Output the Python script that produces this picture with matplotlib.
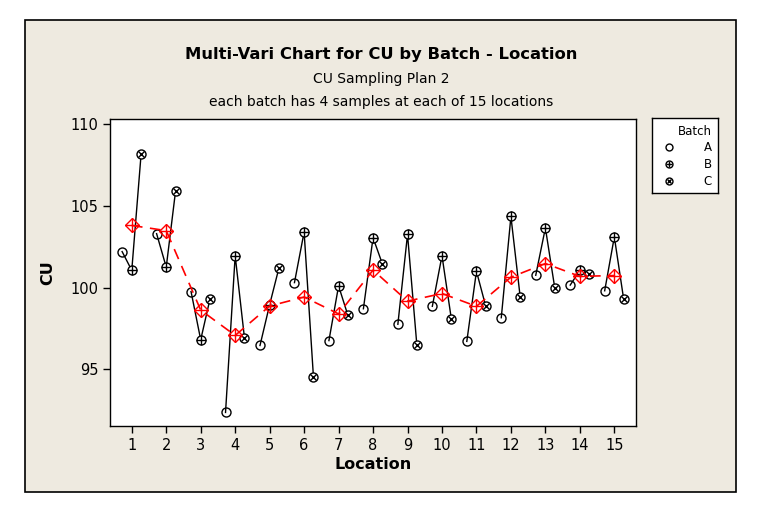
import numpy as np
import matplotlib.pyplot as plt
from matplotlib.patches import Rectangle

# mean CU of each batch at each location
locations = np.arange(1, 16)
batch_a = [102.2, 103.3, 99.75, 92.35, 96.45, 100.3, 96.75, 98.7, 97.75, 98.85,
           96.7, 98.15, 100.75, 100.15, 99.8]
batch_b = [101.05, 101.25, 96.8, 101.95, 98.95, 103.4, 100.1, 103.05, 103.25, 101.95,
           101.0, 104.35, 103.65, 101.05, 103.1]
batch_c = [108.15, 105.9, 99.3, 96.9, 101.2, 94.55, 98.3, 101.45, 96.5, 98.1,
           98.85, 99.4, 100.0, 100.85, 99.3]
batch_names = ['A', 'B', 'C']
y_ticks = [95, 100, 105, 110]

plt.rcParams['font.family'] = ['DejaVu Sans']

fig = plt.figure(figsize=(7.69, 5.22), dpi=100)
fig.patch.set_facecolor('white')
bg = '#EEEAE0'
fig.patches.append(Rectangle((25 / 769, 1 - 492 / 522), 711 / 769, 472 / 522,
                             transform=fig.transFigure, facecolor=bg,
                             edgecolor='black', linewidth=1.2, zorder=-10))

ax = fig.add_axes([110.4 / 769, 1 - 426 / 522, 525.3 / 769, 307 / 522])
ax.set_facecolor('white')

offs = [-0.28, 0.0, 0.27]
data = np.array([batch_a, batch_b, batch_c])
means = data.mean(axis=0)

ms = 6.5
for i, loc in enumerate(locations):
    xs = [loc + o for o in offs]
    ax.plot(xs, data[:, i], color='black', lw=1.0, zorder=2)

xa = locations + offs[0]
xb = locations + offs[1]
xc = locations + offs[2]
ax.plot(xa, batch_a, 'o', mfc='none', mec='black', ms=ms, mew=1.0, zorder=3)
ax.plot(xb, batch_b, 'o', mfc='white', mec='black', ms=ms, mew=1.0, zorder=3)
ax.plot(xb, batch_b, '+', color='black', ms=ms, mew=1.0, zorder=4)
ax.plot(xc, batch_c, 'o', mfc='white', mec='black', ms=ms, mew=1.0, zorder=3)
ax.plot(xc, batch_c, 'x', color='black', ms=ms * 0.7, mew=1.0, zorder=4)

# location means
ax.plot(locations, means, color='red', lw=1.2, dashes=(6.5, 4.5), zorder=5)
ax.plot(locations, means, 'D', mfc='none', mec='red', ms=7, mew=1.0, zorder=6)
ax.plot(locations, means, '+', color='red', ms=10, mew=1.0, zorder=6)

ax.set_xlim(0.38, 15.62)
ax.set_ylim(91.52, 110.32)
ax.set_xticks(locations)
ax.set_yticks(y_ticks)
ax.tick_params(direction='out', length=5, width=1, labelsize=10.5, colors='black')
for s in ax.spines.values():
    s.set_linewidth(1.0)

ax.set_xlabel('Location', fontsize=11.5, fontweight='bold', labelpad=3)
ax.set_ylabel('CU', fontsize=11.5, fontweight='bold', labelpad=30)
ax.yaxis.set_label_coords(-0.105, 0.5)

fig.text(381 / 769, 1 - 54 / 522, 'Multi-Vari Chart for CU by Batch - Location',
         ha='center', va='center', fontsize=11.8, fontweight='bold')
fig.text(381 / 769, 1 - 79 / 522, 'CU Sampling Plan 2', ha='center', va='center', fontsize=10)
fig.text(381 / 769, 1 - 102 / 522, 'each batch has 4 samples at each of 15 locations',
         ha='center', va='center', fontsize=10)

# legend box
lg = fig.add_axes([651.7 / 769, 1 - 192.7 / 522, 66 / 769, 74.4 / 522])
lg.set_xlim(0, 66)
lg.set_ylim(74.4, 0)
lg.set_xticks([])
lg.set_yticks([])
lg.set_facecolor('white')
for s in lg.spines.values():
    s.set_linewidth(1.0)
lg.text(60, 13, 'Batch', ha='right', va='center', fontsize=8.5)
rows = [29, 46, 63]
lg.plot(17, rows[0], 'o', mfc='none', mec='black', ms=5, mew=1.0)
lg.plot(17, rows[1], 'o', mfc='none', mec='black', ms=5, mew=1.0)
lg.plot(17, rows[1], '+', color='black', ms=5, mew=1.0)
lg.plot(17, rows[2], 'o', mfc='none', mec='black', ms=5, mew=1.0)
lg.plot(17, rows[2], 'x', color='black', ms=3.5, mew=1.0)
for r, name in zip(rows, batch_names):
    lg.text(60, r, name, ha='right', va='center', fontsize=8.5)

fig.savefig('out.png', dpi=100, facecolor=fig.get_facecolor())
